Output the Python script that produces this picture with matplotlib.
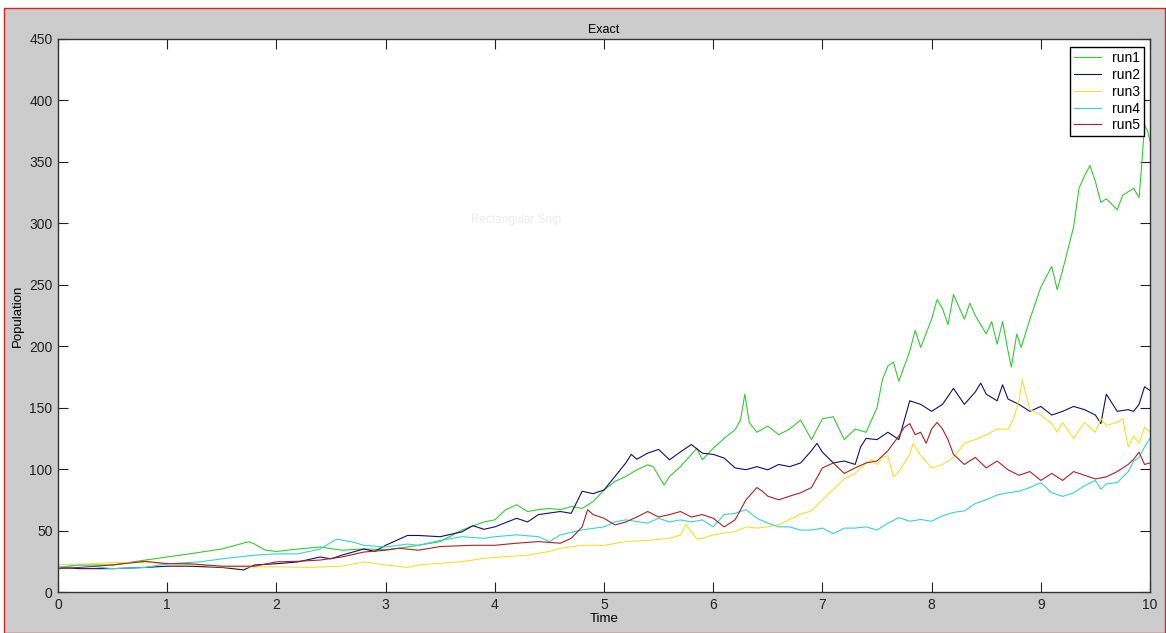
import matplotlib
matplotlib.use('Agg')  # no display
import matplotlib.pyplot as plt
from matplotlib.patches import Rectangle

plt.rcParams['font.family'] = ['Liberation Sans', 'DejaVu Sans']

# (time, population) pairs
run1 = [(0, 20), (0.2, 22), (0.5, 22), (0.8, 26), (1.0, 28.5), (1.2, 31), (1.5, 35), (1.75, 41),
        (1.8, 39), (1.9, 34), (2.0, 33), (2.2, 35), (2.4, 36.6), (2.6, 34), (2.8, 35), (3.0, 34.5),
        (3.12, 35.6), (3.3, 38), (3.5, 41), (3.7, 50.5), (3.9, 57), (4.0, 58.7), (4.1, 67), (4.2, 71),
        (4.3, 65.5), (4.4, 67), (4.5, 68), (4.6, 67), (4.7, 69.5), (4.8, 68), (4.9, 73.6), (5.0, 83),
        (5.1, 90), (5.2, 94), (5.3, 99.4), (5.4, 103.5), (5.45, 102), (5.55, 87), (5.6, 94), (5.7, 102),
        (5.8, 112), (5.85, 117), (5.9, 107.6), (6.0, 117), (6.1, 125), (6.2, 132), (6.25, 140), (6.29, 161),
        (6.33, 138), (6.4, 130), (6.5, 135), (6.6, 128), (6.7, 132.6), (6.8, 140), (6.9, 124), (7.0, 141),
        (7.1, 142.6), (7.2, 124), (7.3, 132.6), (7.4, 130), (7.5, 150), (7.55, 173), (7.6, 184), (7.65, 187),
        (7.7, 171.5), (7.8, 196), (7.85, 213), (7.9, 199), (8.0, 222), (8.05, 238), (8.1, 230.6), (8.15, 217.6),
        (8.2, 242), (8.3, 222), (8.35, 235), (8.4, 225), (8.5, 210), (8.55, 220), (8.6, 201.7), (8.65, 220),
        (8.7, 196), (8.73, 183), (8.78, 210), (8.82, 199), (8.9, 222), (9.0, 248), (9.1, 265), (9.15, 246),
        (9.2, 262), (9.3, 297), (9.35, 328.5), (9.4, 338.6), (9.45, 347), (9.5, 334), (9.55, 317), (9.6, 320),
        (9.7, 311), (9.75, 322.8), (9.8, 325.7), (9.85, 328.5), (9.9, 321), (9.93, 354.5), (9.95, 380),
        (9.98, 374.7), (10.0, 367)]

run2 = [(0, 20), (0.2, 19), (0.5, 19), (0.8, 20), (1.0, 21), (1.2, 21), (1.5, 20), (1.7, 18), (1.8, 22),
        (2.0, 23), (2.2, 24.5), (2.4, 28.5), (2.5, 27), (2.6, 30), (2.8, 35), (2.9, 33), (3.0, 38), (3.1, 42),
        (3.2, 46), (3.3, 46), (3.5, 45), (3.7, 49), (3.8, 54), (3.9, 51), (4.0, 53), (4.2, 60), (4.3, 57),
        (4.4, 63), (4.6, 65.5), (4.7, 64), (4.8, 82), (4.9, 80), (5.0, 83), (5.1, 94), (5.2, 105), (5.25, 112),
        (5.3, 108), (5.4, 113), (5.5, 116), (5.6, 107.6), (5.7, 114), (5.8, 120), (5.9, 113), (6.0, 112),
        (6.1, 109), (6.2, 101), (6.3, 99.5), (6.4, 102), (6.5, 99.4), (6.6, 103.8), (6.7, 102), (6.8, 105),
        (6.9, 115), (6.95, 121), (7.0, 113.8), (7.1, 105), (7.2, 106.6), (7.3, 103.8), (7.35, 118), (7.4, 125),
        (7.5, 124), (7.6, 130), (7.7, 124), (7.8, 155.6), (7.9, 152.7), (8.0, 147), (8.1, 152.7), (8.2, 165.7),
        (8.3, 152.7), (8.4, 162.8), (8.45, 170), (8.5, 161), (8.6, 155.6), (8.65, 168.6), (8.7, 157),
        (8.8, 152.7), (8.9, 147), (9.0, 151), (9.1, 144), (9.2, 147), (9.3, 151), (9.4, 148.4), (9.5, 144),
        (9.55, 137), (9.6, 161), (9.7, 147), (9.8, 148.4), (9.85, 147), (9.9, 152.7), (9.95, 167), (10.0, 164)]

run3 = [(0, 22), (0.3, 23), (0.5, 24), (0.8, 24), (1.0, 23), (1.3, 22), (1.5, 20.5), (2.0, 20.5), (2.3, 20),
        (2.6, 21), (2.8, 24.5), (3.0, 22), (3.2, 20), (3.3, 22), (3.5, 23.4), (3.7, 24.7), (3.9, 27.4),
        (4.1, 28.8), (4.3, 30), (4.5, 33), (4.6, 35.6), (4.8, 38), (5.0, 38), (5.2, 41), (5.4, 42), (5.6, 43.7),
        (5.7, 46.5), (5.75, 55), (5.85, 43), (5.9, 43.7), (6.0, 46.5), (6.1, 48), (6.2, 49), (6.3, 53),
        (6.4, 52), (6.5, 53), (6.6, 54.8), (6.7, 59), (6.8, 63.4), (6.9, 66), (7.0, 75), (7.1, 83.6), (7.2, 92),
        (7.3, 96.5), (7.4, 105), (7.45, 108), (7.5, 103.8), (7.55, 109.5), (7.6, 111), (7.65, 93.7), (7.7, 98),
        (7.8, 112), (7.83, 121), (7.9, 111), (8.0, 101), (8.1, 103.8), (8.2, 109.5), (8.3, 121), (8.4, 124),
        (8.5, 128), (8.6, 132.6), (8.7, 132.6), (8.75, 141), (8.8, 155.6), (8.83, 173), (8.87, 158.5),
        (8.9, 148.4), (9.0, 144), (9.1, 137), (9.15, 130), (9.2, 138), (9.3, 125), (9.4, 138), (9.5, 130),
        (9.55, 141), (9.6, 135.5), (9.7, 138), (9.75, 141), (9.8, 118), (9.85, 127), (9.9, 121), (9.95, 134),
        (10.0, 130)]

run4 = [(0, 20), (0.2, 22), (0.5, 19), (0.8, 20), (1.0, 23), (1.3, 24.5), (1.5, 27), (1.8, 30), (2.0, 31),
        (2.2, 31), (2.4, 35), (2.55, 43), (2.7, 40.6), (2.8, 38), (3.0, 36.6), (3.2, 39), (3.3, 38), (3.5, 42),
        (3.7, 45), (3.9, 43.7), (4.0, 45), (4.2, 46.5), (4.4, 45), (4.5, 41), (4.6, 46.5), (4.8, 50.5),
        (5.0, 53), (5.1, 57), (5.2, 58.7), (5.4, 56), (5.5, 60), (5.6, 57), (5.7, 58.7), (5.8, 57), (5.9, 58.7),
        (6.0, 53), (6.1, 63), (6.2, 64), (6.3, 67), (6.4, 60), (6.5, 56), (6.6, 53), (6.7, 53), (6.8, 50.4),
        (6.9, 50.4), (7.0, 52), (7.1, 47.5), (7.2, 52), (7.3, 52), (7.4, 53), (7.5, 50.4), (7.6, 56),
        (7.7, 60.5), (7.8, 57.6), (7.9, 59), (8.0, 57.6), (8.1, 62), (8.2, 64.8), (8.3, 66), (8.4, 72),
        (8.5, 75), (8.6, 79), (8.7, 80.7), (8.8, 82), (8.9, 85), (9.0, 89), (9.1, 80.7), (9.2, 77.8),
        (9.3, 80.7), (9.4, 86.5), (9.5, 90.8), (9.55, 83.6), (9.6, 88), (9.7, 89), (9.8, 98), (9.85, 106.6),
        (9.9, 109.5), (9.95, 118), (10.0, 125)]

run5 = [(0, 19), (0.2, 20), (0.5, 22), (0.8, 25), (1.0, 23), (1.2, 23), (1.5, 21), (1.8, 21), (2.0, 24.5),
        (2.2, 25), (2.4, 26), (2.6, 28.5), (2.8, 32.5), (3.0, 34), (3.12, 35.6), (3.3, 34), (3.5, 37),
        (3.8, 38), (4.0, 38), (4.2, 39.7), (4.4, 41), (4.6, 39.7), (4.7, 43.7), (4.8, 53), (4.85, 67),
        (4.9, 63), (5.0, 60), (5.1, 54.6), (5.2, 57), (5.3, 61), (5.4, 65.5), (5.5, 61), (5.6, 63), (5.7, 65.5),
        (5.8, 61), (5.9, 63), (6.0, 60), (6.1, 53), (6.2, 58.7), (6.3, 75), (6.4, 85), (6.45, 82), (6.5, 78),
        (6.6, 75), (6.7, 78), (6.8, 80.7), (6.9, 85), (7.0, 101), (7.1, 105), (7.2, 96.5), (7.3, 101),
        (7.4, 105), (7.5, 106.6), (7.6, 115), (7.7, 127), (7.75, 134), (7.8, 137), (7.85, 128), (7.9, 130),
        (7.95, 121), (8.0, 132.6), (8.05, 138), (8.1, 132.6), (8.15, 124), (8.2, 112), (8.3, 103.8),
        (8.4, 109.5), (8.5, 101), (8.6, 106.6), (8.7, 99.4), (8.8, 95), (8.9, 98), (9.0, 90.8), (9.1, 96.5),
        (9.2, 90.8), (9.3, 98), (9.4, 95), (9.5, 92), (9.6, 93.7), (9.7, 98), (9.8, 103.8), (9.85, 108),
        (9.9, 113.8), (9.95, 103.8), (10.0, 105)]

run_names = ['run1', 'run2', 'run3', 'run4', 'run5']
run_colors = ['#33cc33', '#101070', '#f2e22a', '#33d4d4', '#b02020']
x_ticks = list(range(0, 11))
y_ticks = list(range(0, 451, 50))

W, H = 1166, 633
fig = plt.figure(figsize=(W / 100, H / 100), dpi=100)
fig.patch.set_facecolor('white')
# grey figure window with red outline (screenshot frame)
fig.patches.append(Rectangle((4 / W, 0), (1165 - 4) / W, (H - 8) / H, transform=fig.transFigure,
                             facecolor='#cccccc', edgecolor='#dd2020', lw=1, zorder=-10))

ax = fig.add_axes([58 / W, 41 / H, 1092 / W, 553 / H])
ax.set_facecolor('white')

for name, color, run in zip(run_names, run_colors, [run1, run2, run3, run4, run5]):
    t = [p[0] for p in run]
    v = [p[1] for p in run]
    ax.plot(t, v, color=color, lw=0.8, label=name)

ax.set_xlim(0, 10)
ax.set_ylim(0, 450)
ax.set_xticks(x_ticks)
ax.set_yticks(y_ticks)
ax.tick_params(direction='in', top=True, right=True, length=7.5, width=0.8,
               labelsize=10, pad=4, colors='#222222')
for s in ax.spines.values():
    s.set_linewidth(1.0)
    s.set_color('#333333')

ax.set_title('Exact', fontsize=9, pad=4)
ax.set_xlabel('Time', fontsize=9.5, labelpad=1)
ax.set_ylabel('Population', fontsize=9.5, labelpad=4)

leg = ax.legend(loc='upper right', bbox_to_anchor=(0.9945, 0.9855), borderaxespad=0,
                fontsize=10, handlelength=1.9, labelspacing=0.2, handletextpad=0.8,
                borderpad=0.3, fancybox=False, framealpha=1)
leg.get_frame().set_edgecolor('black')
leg.get_frame().set_linewidth(1.0)

# faint snipping-tool leftover in the middle of the plot
ax.text(0.378, 0.672, 'Rectangular Snip', transform=ax.transAxes, fontsize=8.5,
        color='#ececec', va='center')

fig.savefig('out.png', dpi=100)
